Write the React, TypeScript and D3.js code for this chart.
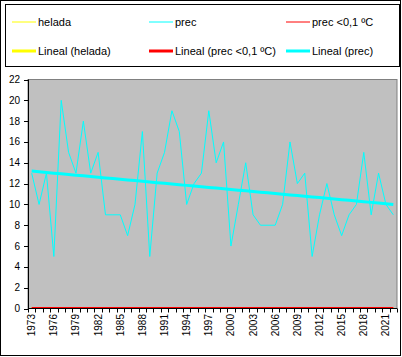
import React from "react";
import * as d3 from "d3";

const years: number[] = d3.range(1973, 2023);
const prec: number[] = [
  13, 10, 13, 5, 20, 15, 13, 18, 13, 15,
  9, 9, 9, 7, 10, 17, 5, 13, 15, 19,
  17, 10, 12, 13, 19, 14, 16, 6, 10, 14,
  9, 8, 8, 8, 10, 16, 12, 13, 5, 9,
  12, 9, 7, 9, 10, 15, 9, 13, 10, 9,
];
const helada: number[] = years.map(() => 0);
const precBajo: number[] = years.map(() => 0);
const yTicks: number[] = [0, 2, 4, 6, 8, 10, 12, 14, 16, 18, 20, 22];
const xLabelYears: number[] = d3.range(1973, 2023, 3);

function linreg(vals: number[]): number[] {
  const n = vals.length;
  const xs = d3.range(n);
  const mx = d3.mean(xs) as number;
  const my = d3.mean(vals) as number;
  let sxy = 0, sxx = 0;
  xs.forEach((x, i) => { sxy += (x - mx) * (vals[i] - my); sxx += (x - mx) * (x - mx); });
  const b = sxx === 0 ? 0 : sxy / sxx;
  return xs.map((x) => my + b * (x - mx));
}

const FONT = "'Liberation Sans', Arial, sans-serif";

export default function App() {
  const W = 402, H = 357;
  const left = 28, right = 397, top = 79.5, bottom = 308.5;
  const x = d3.scaleBand<number>().domain(years).range([left, right]).padding(0);
  const y = d3.scaleLinear().domain([0, 22]).range([bottom, top]);
  const cx = (yr: number) => (x(yr) as number) + x.bandwidth() / 2;
  const line = d3.line<number>().x((_, i) => cx(years[i])).y((v) => y(v));

  const trendPrec = linreg(prec);
  const trendHelada = linreg(helada);
  const trendBajo = linreg(precBajo);

  const boundaries = d3.range(years.length + 1).map((i) => left + i * x.bandwidth());

  const legendItems = [
    { label: "helada", color: "#FFFF00", w: 1, lx: 12, ty: 22 },
    { label: "prec", color: "#00FFFF", w: 1, lx: 149, ty: 22 },
    { label: "prec <0,1 ºC", color: "#FF0000", w: 1, lx: 286, ty: 22 },
    { label: "Lineal (helada)", color: "#FFFF00", w: 3, lx: 12, ty: 51 },
    { label: "Lineal (prec <0,1 ºC)", color: "#FF0000", w: 3, lx: 149, ty: 51 },
    { label: "Lineal (prec)", color: "#00FFFF", w: 3, lx: 286, ty: 51 },
  ];

  return (
    <svg width={W} height={H} style={{ position: "absolute", left: 0, top: 0, background: "#fff" }} fontFamily={FONT}>
      <rect x={0.5} y={0.5} width={400} height={355} fill="#fff" stroke="#000" />
      <rect x={5.5} y={4.5} width={394} height={62} fill="#fff" stroke="#000" />
      {legendItems.map((it, i) => (
        <g key={i}>
          <line x1={it.lx} x2={it.lx + 24} y1={it.ty} y2={it.ty} stroke={it.color} strokeWidth={it.w} />
          <text x={it.lx + 26} y={it.ty} dy="0.35em" fontSize={11} fill="#000">{it.label}</text>
        </g>
      ))}
      <defs>
        <clipPath id="plotclip">
          <rect x={left} y={top} width={right - left} height={bottom - top} />
        </clipPath>
      </defs>
      <rect x={left} y={top} width={right - left} height={bottom - top} fill="#C0C0C0" stroke="#808080" strokeWidth={1} />
      <g clipPath="url(#plotclip)" fill="none">
        <path d={line(helada) || ""} stroke="#FFFF00" strokeWidth={1} />
        <path d={line(prec) || ""} stroke="#00FFFF" strokeWidth={1} />
        <path d={line(precBajo) || ""} stroke="#FF0000" strokeWidth={1} />
        <path d={line(trendHelada) || ""} stroke="#FFFF00" strokeWidth={3} />
        <path d={line(trendBajo) || ""} stroke="#FF0000" strokeWidth={3} />
        <path d={line(trendPrec) || ""} stroke="#00FFFF" strokeWidth={3} />
      </g>
      {/* y axis */}
      <line x1={left + 0.5} x2={left + 0.5} y1={top} y2={bottom} stroke="#000" />
      {yTicks.map((t) => (
        <g key={t}>
          <line x1={left - 4} x2={left} y1={Math.round(y(t)) + 0.5} y2={Math.round(y(t)) + 0.5} stroke="#000" />
          <text x={20} y={y(t)} dy="0.35em" textAnchor="end" fontSize={10} fill="#000">{t}</text>
        </g>
      ))}
      {/* x axis */}
      <line x1={left} x2={right} y1={bottom} y2={bottom} stroke="#000" />
      {boundaries.map((b, i) => (
        <line key={i} x1={Math.round(b) + 0.5} x2={Math.round(b) + 0.5} y1={bottom} y2={bottom + 4} stroke="#000" />
      ))}
      {xLabelYears.map((yr) => (
        <text key={yr} transform={`translate(${cx(yr)},314) rotate(-90)`} dy="0.35em" textAnchor="end" fontSize={10} fill="#000">{yr}</text>
      ))}
    </svg>
  );
}
